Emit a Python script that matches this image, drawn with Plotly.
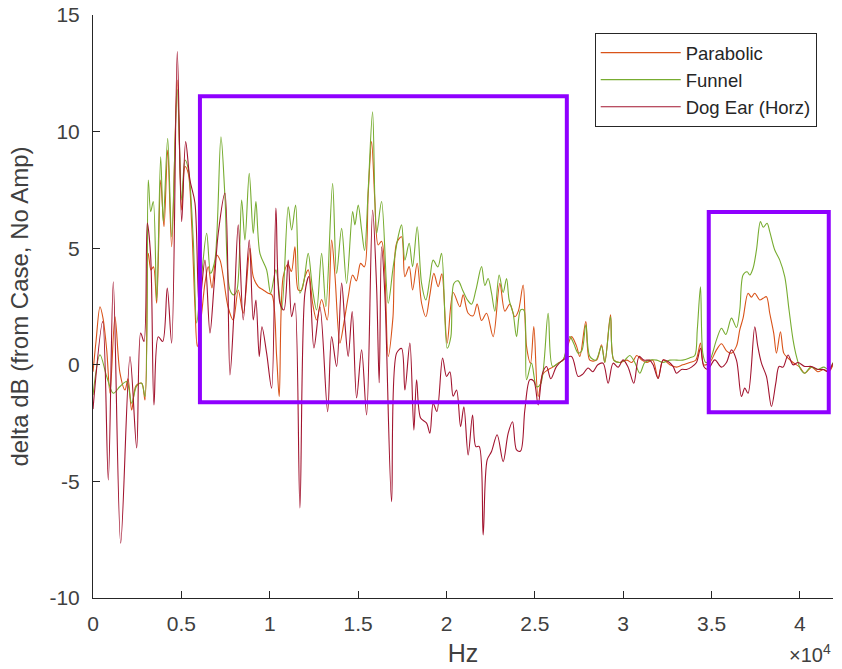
import plotly.graph_objects as go

# ---------------- data ----------------
parabolic_hz = [0, 170, 396, 566, 775, 962, 1244, 1527, 1810, 1980, 2189, 2432, 2754, 2941, 3128, 3280, 3422, 3603, 3829, 4016,
                4225, 4451, 4768, 5017, 5203, 5390, 5582, 5769, 5899, 6148, 6335, 6521, 6731, 6997, 7183, 7370, 7636, 7935, 8218, 8501,
                8880, 9066, 9349, 9632, 9915, 10124, 10390, 10537, 10763, 11029, 11227, 11425, 11612, 11793, 11991, 12177, 12426, 12652, 12935, 13252,
                13501, 13688, 13970, 14196, 14440, 14689, 14904, 15141, 15356, 15571, 15763, 15950, 16137, 16329, 16515, 16702, 16968, 17177, 17460, 17647,
                17890, 18083, 18343, 18592, 18834, 19061, 19287, 19530, 19739, 20039, 20378, 20757, 20944, 21227, 21510, 21736, 21985, 22268, 22641, 23020,
                23303, 23585, 23868, 24066, 24338, 24530, 24756, 24943, 25186, 25452, 25752, 26018, 26318, 26600, 27075, 27358, 27545, 27884, 28110, 28489,
                28772, 28959, 29281, 29468, 29808, 30204, 30486, 30769, 31052, 31335, 31674, 31974, 32257, 32636, 33015, 33371, 33767, 34106, 34372, 34559,
                34898, 35276, 35560, 35842, 36125, 36408, 36595, 36781, 37064, 37253, 37443, 37726, 37913, 38105, 38291, 38518, 38671, 38897, 39084, 39310,
                39610, 39987, 40270, 40666, 41006, 41345, 41628, 41870]
parabolic_db = [-0.3, 1.0, 2.49, 2.0, 0.64, -1.22, 2.06, -0.36, -1.08, -0.6, -1.94, -0.9, -0.79, -1.51, 4.78, 4.07, 4.2, 2.64, 7.92, 5.92,
                9.21, 5.06, 12.21, 6.64, 8.5, 8.21, 6.07, 2.49, 0.78, 2.21, 3.5, 4.21, 3.3, 4.71, 4.5, 3.78, 2.5, 1.92, 3.21, 2.21,
                5.0, 3.78, 3.35, 3.21, 3.07, 3.0, 0.36, -1.36, 3.78, 4.3, 4.0, 5.06, 3.21, 3.2, 3.78, 4.07, 2.64, 1.92, 2.8, 1.92,
                5.35, 3.85, 0.93, 1.8, 2.92, 3.85, 3.6, 4.35, 4.2, 7.35, 9.57, 7.0, 5.14, 5.3, 3.92, 0.36, 2.0, 5.21, 5.49, 3.78,
                4.21, 3.21, 4.35, 2.64, 2.06, 3.0, 3.92, 3.35, 3.9, 0.93, 3.1, 2.49, 3.0, 2.21, 2.1, 2.6, 1.9, 2.21, 1.21, 3.49,
                2.3, 2.6, 2.06, 2.3, 3.42, 0.79, 0.07, 1.64, -1.36, -0.4, -0.21, -0.1, 0.07, 0.21, 1.21, 0.8, 0.36, 1.85, 0.2, 0.2,
                0.86, 0.1, 2.14, 0.2, 0.1, 0.2, 0.1, 0.4, 0.2, 0.1, 0.2, -0.58, 0.21, 0.0, -0.1, 0.0, 0.1, 0.2, 0.93, 0.0,
                0.1, 0.64, 0.9, 0.6, 0.5, 0.8, 1.5, 2.0, 3.07, 2.9, 3.07, 2.78, 2.85, 2.92, 2.21, 1.35, 0.5, 1.42, 0.5, 0.3,
                0.1, -0.1, -0.36, -0.1, -0.3, -0.2, -0.3, 0.0]

funnel_hz = [0, 396, 775, 1148, 1527, 1906, 2189, 2472, 2754, 2941, 3128, 3264, 3411, 3603, 3829, 3976, 4225, 4451, 4768, 5017,
             5203, 5390, 5673, 5865, 6108, 6431, 6657, 6900, 7240, 7466, 7749, 7975, 8145, 8410, 8597, 8840, 9066, 9219, 9445, 9824,
             10051, 10350, 10673, 11046, 11238, 11465, 11708, 11934, 12177, 12426, 12652, 12935, 13178, 13557, 13784, 14067, 14349, 14689, 14819, 15005,
             15198, 15367, 15571, 15820, 16046, 16329, 16702, 16985, 17268, 17460, 17647, 17890, 18083, 18343, 18592, 18834, 19061, 19247, 19513, 19722,
             20039, 20248, 20418, 20661, 20910, 21170, 21419, 21662, 21985, 22171, 22358, 22550, 22737, 22980, 23207, 23399, 23546, 23772, 23965, 24191,
             24378, 24530, 24813, 25096, 25339, 25752, 26001, 26318, 26600, 26979, 27205, 27449, 27658, 27884, 28110, 28450, 28772, 28959, 29281, 29468,
             29808, 30090, 30373, 30656, 30939, 31222, 31504, 31900, 32240, 32636, 33032, 33371, 33767, 34050, 34191, 34372, 34502, 34672, 34898, 35276,
             35560, 35803, 36125, 36408, 36595, 36781, 37008, 37160, 37347, 37539, 37765, 37924, 38139, 38291, 38574, 38857, 39140, 39383, 39610, 39802,
             40045, 40270, 40610, 41006, 41345, 41628, 41870]
funnel_db = [-1.3, 0.43, -0.5, -1.22, -0.93, -0.72, -1.65, -0.9, -0.79, -1.36, 7.92, 6.57, 7.0, 2.78, 8.92, 6.14, 9.71, 5.49, 11.8, 7.07,
             8.78, 8.4, 5.35, 1.79, 3.5, 5.64, 3.92, 4.5, 9.78, 7.21, 3.21, 3.0, 3.2, 7.07, 5.35, 8.21, 5.64, 7.0, 4.78, 4.07,
             3.07, 4.07, 2.35, 6.78, 5.78, 6.85, 3.07, 3.6, 4.78, 3.21, 2.35, 4.78, 2.49, 7.78, 3.92, 5.85, 3.49, 6.57, 6.0, 6.85,
             5.78, 4.9, 7.5, 10.85, 5.64, 7.0, 2.64, 4.2, 5.5, 6.0, 4.49, 5.21, 4.21, 5.92, 3.49, 2.78, 3.7, 4.49, 4.2, 4.78,
             0.71, 1.2, 3.49, 3.6, 3.21, 2.8, 2.6, 3.2, 4.21, 3.4, 3.7, 3.07, 2.3, 3.85, 3.1, 3.7, 2.78, 2.2, 1.21, 2.35,
             2.35, -0.64, 0.07, -0.94, -0.8, 2.21, -0.07, 0.07, 0.21, 1.21, 0.9, 0.5, 0.6, 1.71, 0.36, 0.2, 0.79, 0.1, 2.06, 0.2,
             0.1, 0.2, 0.4, 0.1, -0.36, 0.1, 0.2, 0.2, 0.1, 0.2, 0.2, 0.2, 0.3, 0.4, 1.5, 3.35, 0.5, 0.1, 0.2, 1.07,
             1.57, 1.3, 2.0, 1.6, 2.35, 3.85, 3.99, 3.85, 4.14, 4.92, 6.14, 5.9, 6.07, 5.71, 4.92, 4.49, 3.78, 2.35, 1.07, 0.36,
             -0.2, -0.36, -0.1, -0.2, -0.1, -0.2, 0.1]

dogear_hz = [0, 549, 865, 1148, 1567, 2093, 2472, 2698, 2885, 3071, 3264, 3450, 3693, 3942, 4202, 4451, 4768, 5017, 5243, 5486,
             5769, 6012, 6335, 6618, 6844, 7087, 7466, 7749, 7975, 8218, 8501, 8840, 9066, 9219, 9406, 9559, 9824, 10107, 10350, 10577,
             10803, 11046, 11238, 11425, 11708, 11991, 12217, 12500, 12839, 13275, 13501, 13784, 14067, 14253, 14440, 14666, 14915, 15198, 15481, 15820,
             16046, 16193, 16329, 16515, 16894, 17177, 17460, 17647, 17930, 18156, 18309, 18535, 18874, 19061, 19247, 19457, 19779, 20005, 20192, 20378,
             20571, 20797, 20984, 21227, 21476, 21662, 21849, 22075, 22302, 22550, 22867, 23207, 23489, 23738, 23965, 24191, 24434, 24717, 24943, 25186,
             25435, 25661, 25904, 26227, 26600, 27075, 27449, 27714, 28014, 28280, 28563, 28863, 29146, 29428, 29711, 29994, 30277, 30599, 30899, 31165,
             31504, 31691, 31974, 32257, 32540, 32823, 33015, 33298, 33580, 33863, 34146, 34372, 34559, 34785, 35181, 35560, 35842, 36125, 36408, 36691,
             36878, 37064, 37443, 37613, 37822, 38105, 38388, 38631, 38818, 39044, 39327, 39610, 39893, 40270, 40649, 41023, 41306, 41589, 41870]
dogear_db = [-1.9, 1.85, -4.94, 3.56, -7.65, 0.35, -3.57, 1.36, 1.0, 6.08, 4.64, -1.72, 1.2, 1.0, 3.29, 0.93, 13.43, 6.14, 9.57, 7.92,
             6.94, 2.49, 4.49, 1.36, 3.35, 5.64, 7.36, -0.43, 2.22, 6.0, 1.92, 5.35, 1.92, 2.78, 0.35, 1.63, 0.5, -1.0, 6.72, 2.65,
             2.35, 4.49, 2.06, 2.65, -6.14, 3.08, 3.78, 0.72, 2.49, -2.01, 1.21, -0.07, 3.51, 1.79, 0.36, 2.28, -1.42, 0.64, -2.15, 6.64,
             3.35, -0.77, 5.06, 3.0, -5.87, 0.5, 0.7, -1.08, 0.93, -2.8, -0.64, -2.28, -2.5, -2.93, -1.65, -2.0, 0.29, -0.5, -0.3, -1.35,
             -1.08, -2.65, -1.8, -3.87, -2.15, -3.51, -3.5, -7.3, -4.08, -3.72, -3.0, -4.15, -2.94, -2.44, -3.65, -3.7, -1.94, -0.64, -0.7, -1.72,
             -0.36, -0.07, -0.6, -0.07, 0.21, 0.36, -0.5, -0.4, -0.14, -0.3, 0.0, 0.07, -0.79, 0.07, -0.1, 0.21, -0.1, -0.79, 0.36, 0.2,
             0.2, 0.0, -0.58, 0.21, 0.14, -0.07, -0.36, -0.2, -0.2, -0.1, 0.1, 0.71, -0.07, -0.2, 0.21, -0.1, 0.1, 0.64, 0.2, -1.36,
             -1.0, -1.22, 1.63, 0.8, 0.07, -0.5, -1.79, -0.8, -0.07, -0.1, 0.42, 0.0, 0.1, -0.07, -0.07, -0.2, -0.2, -0.29, 0.07]

series_names = ["Parabolic", "Funnel", "Dog Ear (Horz)"]
series_colors = ["#D95319", "#77AC30", "#A2142F"]

x_tick_vals = [0, 5000, 10000, 15000, 20000, 25000, 30000, 35000, 40000]
x_tick_text = ["0", "0.5", "1", "1.5", "2", "2.5", "3", "3.5", "4"]
y_tick_vals = [-10, -5, 0, 5, 10, 15]
y_tick_text = ["-10", "-5", "0", "5", "10", "15"]

# highlight boxes drawn over the chart (Hz, dB)
box1 = (6050, -1.61, 26810, 11.52)
box2 = (34840, -2.04, 41630, 6.55)

# ---------------- figure ----------------
fig = go.Figure()
for name, color, xs, ys in zip(series_names, series_colors,
                               [parabolic_hz, funnel_hz, dogear_hz],
                               [parabolic_db, funnel_db, dogear_db]):
    fig.add_trace(go.Scatter(x=xs, y=ys, mode="lines", name=name,
                             line=dict(color=color, width=1.1, shape="spline", smoothing=0.9)))

for (x0, y0, x1, y1) in (box1, box2):
    fig.add_shape(type="rect", xref="x", yref="y", x0=x0, y0=y0, x1=x1, y1=y1,
                  line=dict(color="#8F00FF", width=4), fillcolor="rgba(0,0,0,0)")

fam = "Liberation Sans, Arial, sans-serif"
txt = "#404040"
fig.update_layout(
    width=842, height=669,
    margin=dict(l=93, r=9, t=15, b=71, autoexpand=False),
    paper_bgcolor="white", plot_bgcolor="white",
    font=dict(family=fam, size=21, color=txt),
    showlegend=True,
    legend=dict(x=0.978, y=0.969, xanchor="right", yanchor="top",
                bgcolor="white", bordercolor="#262626", borderwidth=1,
                font=dict(family=fam, size=18.5, color="#262626"),
                itemwidth=80, tracegroupgap=0),
    xaxis=dict(range=[0, 41870], tickvals=x_tick_vals, ticktext=x_tick_text,
               showline=True, linecolor="#262626", linewidth=1, ticks="inside",
               ticklen=7, tickcolor="#262626", showgrid=False, zeroline=False,
               automargin=False, ticklabelstandoff=7,
               tickfont=dict(family=fam, size=21, color=txt),
               title=dict(text="Hz", font=dict(family=fam, size=25, color=txt), standoff=10)),
    yaxis=dict(range=[-10, 15], tickvals=y_tick_vals, ticktext=y_tick_text,
               showline=True, linecolor="#262626", linewidth=1, ticks="inside",
               ticklen=7, tickcolor="#262626", showgrid=False, zeroline=False,
               automargin=False, ticklabelstandoff=8, ticklabeloverflow="allow",
               tickfont=dict(family=fam, size=21, color=txt),
               title=dict(text="delta dB (from Case, No Amp)", font=dict(family=fam, size=24, color=txt),
                          standoff=14)),
)
fig.add_annotation(text="\u00d710<sup>4</sup>", xref="paper", yref="paper", x=1.0, y=0,
                   xanchor="right", yanchor="top", yshift=-41, showarrow=False,
                   font=dict(family=fam, size=20, color=txt))

# remove the browser's default 8px page margin so the figure fills the window exactly
fig.write_html("out.html", config={"displayModeBar": False},
               post_script="document.body.style.margin='0px';")
